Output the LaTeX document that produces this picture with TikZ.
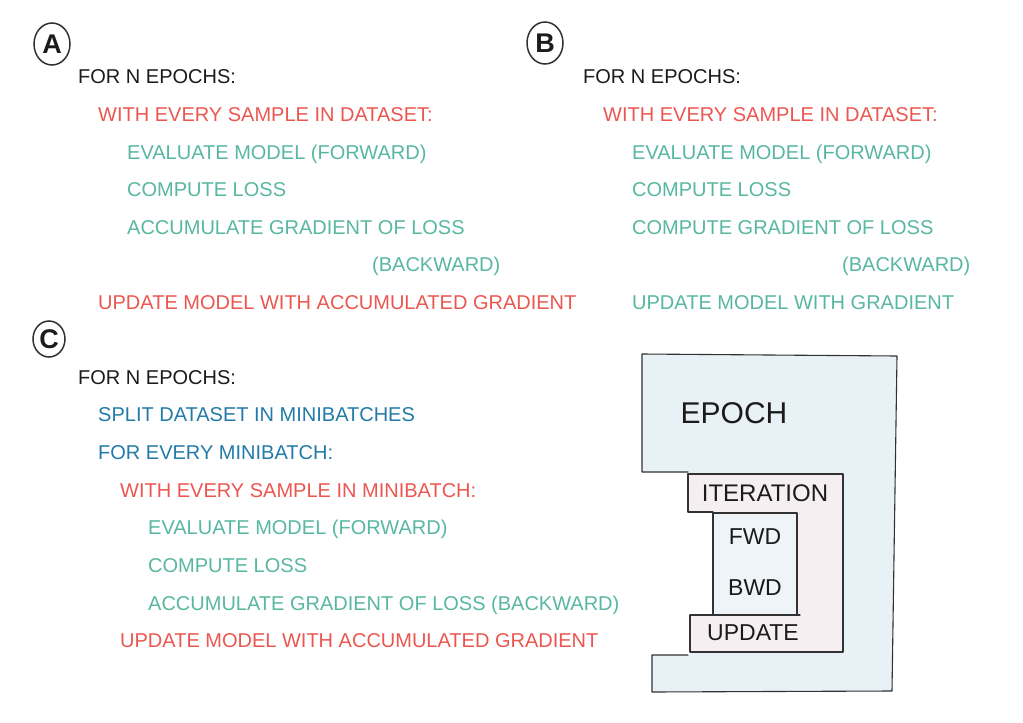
\documentclass[tikz,border=0pt]{standalone}
\usepackage{fontspec}
\setmainfont{Liberation Sans}
\definecolor{ink}{RGB}{27,27,27}
\definecolor{sred}{RGB}{236,86,80}
\definecolor{steal}{RGB}{88,183,160}
\definecolor{sblue}{RGB}{34,122,168}
\definecolor{washblue}{RGB}{232,241,246}
\definecolor{washpink}{RGB}{245,239,241}
\definecolor{washinner}{RGB}{238,244,247}
\definecolor{edge}{RGB}{50,50,50}
\tikzset{
  line/.style={font=\fontsize{20}{22}\selectfont, anchor=base west, inner sep=0pt},
  black line/.style={line, text=ink},
  red line/.style={line, text=sred},
  teal line/.style={line, text=steal},
  blue line/.style={line, text=sblue},
  tag/.style={draw=edge, line width=1.5pt, ellipse, minimum width=36pt, minimum height=42pt, inner sep=0pt,
              font=\fontsize{27}{29}\selectfont\bfseries, text=ink},
  sketch/.style={draw=edge, line width=1.1pt, line join=round, line cap=round},
  boxlabel/.style={font=\fontsize{23}{25}\selectfont, text=ink, inner sep=0pt},
}
\usetikzlibrary{shapes.geometric}
\begin{document}
\begin{tikzpicture}[x=1pt,y=-1pt]
\useasboundingbox (0,0) rectangle (1023,723);

% ---------- panel A ----------
\node[tag] (tagA) at (52,44) {A};
\node[black line] (a1) at (78,83)  {FOR N EPOCHS:};
\node[red line]   (a2) at (98,121) {WITH EVERY SAMPLE IN DATASET:};
\node[teal line]  (a3) at (127,159) {EVALUATE MODEL (FORWARD)};
\node[teal line]  (a4) at (127,196) {COMPUTE LOSS};
\node[teal line]  (a5) at (127,234) {ACCUMULATE GRADIENT OF LOSS};
\node[teal line]  (a6) at (372,271) {(BACKWARD)};
\node[red line]   (a7) at (98,309) {UPDATE MODEL WITH ACCUMULATED GRADIENT};

% ---------- panel B ----------
\node[tag] (tagB) at (545,43) {B};
\node[black line] (b1) at (583,83)  {FOR N EPOCHS:};
\node[red line]   (b2) at (603,121) {WITH EVERY SAMPLE IN DATASET:};
\node[teal line]  (b3) at (632,159) {EVALUATE MODEL (FORWARD)};
\node[teal line]  (b4) at (632,196) {COMPUTE LOSS};
\node[teal line]  (b5) at (632,234) {COMPUTE GRADIENT OF LOSS};
\node[teal line]  (b6) at (842,271) {(BACKWARD)};
\node[teal line]  (b7) at (632,309) {UPDATE MODEL WITH GRADIENT};

% ---------- panel C ----------
\node[tag, minimum width=32pt, minimum height=36pt] (tagC) at (49,339) {C};
\node[black line] (c1) at (78,384)  {FOR N EPOCHS:};
\node[blue line]  (c2) at (98,421)  {SPLIT DATASET IN MINIBATCHES};
\node[blue line]  (c3) at (98,459)  {FOR EVERY MINIBATCH:};
\node[red line]   (c4) at (120,497) {WITH EVERY SAMPLE IN MINIBATCH:};
\node[teal line]  (c5) at (148,534) {EVALUATE MODEL (FORWARD)};
\node[teal line]  (c6) at (148,572) {COMPUTE LOSS};
\node[teal line]  (c7) at (148,610) {ACCUMULATE GRADIENT OF LOSS (BACKWARD)};
\node[red line]   (c8) at (120,647) {UPDATE MODEL WITH ACCUMULATED GRADIENT};

% ---------- nested loop sketch ----------
% washes
\fill[washblue] (642,354) -- (897,356) -- (892,691) -- (652,692) -- (652,655) -- (690,655)
  -- (690,615) -- (713,615) -- (713,512) -- (688,512) -- (688,472) -- (642,472) -- cycle;
\fill[washpink] (688,474) -- (843,474) -- (843,652) -- (690,652) -- (690,615) -- (713,615)
  -- (713,513) -- (688,513) -- cycle;
\fill[washinner] (713,513) rectangle (797,615);

% epoch outline
\draw[sketch] (688,472) -- (642,472) -- (642,354) -- (897,356) -- (892,691) -- (652,692)
  -- (652,655) -- (688,655);
% iteration outline
\draw[sketch] (713,512) -- (688,512) -- (688,474) -- (843,474) -- (843,652) -- (690,652) -- (690,615);
% forward / backward box
\draw[sketch] (713,513) rectangle (797,615);
% update box top
\draw[sketch] (690,615) -- (800,615);

\node[boxlabel, font=\fontsize{30}{32}\selectfont] (epoch) at (734,413) {EPOCH};
\node[boxlabel, font=\fontsize{24}{26}\selectfont] (iter) at (765,493) {ITERATION};
\node[boxlabel] (fwd) at (755,537) {FWD};
\node[boxlabel] (bwd) at (755,588) {BWD};
\node[boxlabel] (upd) at (753,633) {UPDATE};
\end{tikzpicture}
\end{document}
